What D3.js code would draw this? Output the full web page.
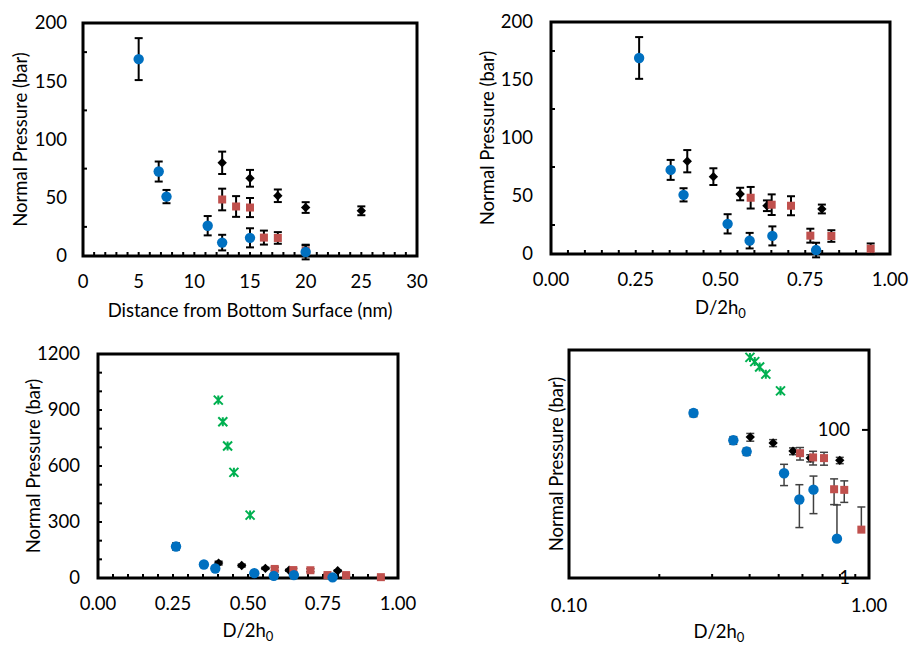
<!DOCTYPE html>
<html>
<head>
<meta charset="utf-8">
<script src="https://cdn.jsdelivr.net/npm/d3@7"></script>
<style>
  body { margin: 0; background: #fff; }
  text { font-family: Lato, "Open Sans", sans-serif; fill: #000; }
</style>
</head>
<body>
<div id="chart"></div>
<script>
// Blue circles
const blueDist = [5.0, 6.8, 7.5, 11.2, 12.5, 15.0, 20.0];
const blueRatio = [0.260, 0.353, 0.391, 0.521, 0.586, 0.653, 0.782];
const bluePress = [169, 72.5, 51, 26, 11.5, 15.6, 3.4];
const blueErr = [18, 8.6, 5.7, 8.3, 6.7, 8.2, 6.3];

// Red squares
const redDist = [12.5, 13.75, 15.0, 16.25, 17.5, 20.0];
const redRatio = [0.589, 0.651, 0.708, 0.765, 0.827, 0.943];
const redPress = [48.5, 42.5, 41.6, 15.8, 15.5, 4.5];
const redErr = [9.3, 8.9, 8.2, 6.0, 5.0, 4.6];

// Black diamonds
const blackDist = [12.5, 15.0, 17.5, 20.0, 25.0];
const blackRatio = [0.402, 0.479, 0.558, 0.637, 0.799];
const blackPress = [80, 66.7, 51.7, 41.6, 38.8];
const blackErr = [9.6, 7.2, 5.4, 4.6, 3.8];

// Green stars (only in the bottom panels)
const greenRatio = [0.401, 0.416, 0.432, 0.453, 0.507];
const greenPress = [953, 837, 707, 566, 337];

// tick values
const distTicks = [0, 5, 10, 15, 20, 25, 30];
const pressTicks = [0, 50, 100, 150, 200];
const ratioTicks = [0, 0.25, 0.5, 0.75, 1.0];
const pressTicksBig = [0, 300, 600, 900, 1200];
const logXTicks = [0.1, 1];
const logXMinor = [0.2, 0.3, 0.4, 0.5, 0.6, 0.7, 0.8, 0.9];
const logYTicks = [1, 100];

const W = 911, H = 645;
const svg = d3.select("#chart").append("svg")
  .attr("width", W)
  .attr("height", H)
  .attr("viewBox", `0 0 ${W} ${H}`);

const colors = { blue: "#0070C0", red: "#C0504D", black: "#000000", green: "#00B050" };
const zip = (xs, ys, es) => xs.map((x, i) => ({ x: x, y: ys[i], e: es ? es[i] : 0 }));

function seriesFor(key) {
  const useDist = key === "dist";
  return [
    { name: "black", shape: "diamond", data: zip(useDist ? blackDist : blackRatio, blackPress, blackErr) },
    { name: "red", shape: "square", data: zip(useDist ? redDist : redRatio, redPress, redErr) },
    { name: "blue", shape: "circle", data: zip(useDist ? blueDist : blueRatio, bluePress, blueErr) }
  ];
}

const panels = [
  {
    box: { left: 83, right: 417, top: 23, bottom: 256 },
    x: d3.scaleLinear().domain([0, 30]), xTicks: distTicks, xMinor: d3.range(1, 30, 1), xFmt: d3.format("d"),
    y: d3.scaleLinear().domain([0, 200]), yTicks: pressTicks, yMinor: [25, 75, 125, 175], yFmt: d3.format("d"),
    series: seriesFor("dist"), errStyle: { stroke: "#000", width: 2 },
    xTitle: "Distance from Bottom Surface (nm)", xLabelY: 288, xTitleY: 317, yTitleX: 21, yLabelGap: 16
  },
  {
    box: { left: 551, right: 890, top: 22, bottom: 254 },
    x: d3.scaleLinear().domain([0, 1]), xTicks: ratioTicks, xMinor: d3.range(0.05, 1, 0.05), xFmt: d3.format(".2f"),
    y: d3.scaleLinear().domain([0, 200]), yTicks: pressTicks, yMinor: [25, 75, 125, 175], yFmt: d3.format("d"),
    series: seriesFor("ratio"), errStyle: { stroke: "#000", width: 2 },
    xTitle: "D/2h", xLabelY: 286, xTitleY: 314, yTitleX: 488, yLabelGap: 18
  },
  {
    box: { left: 98, right: 398, top: 354, bottom: 578 },
    x: d3.scaleLinear().domain([0, 1]), xTicks: ratioTicks, xMinor: d3.range(0.05, 1, 0.05), xFmt: d3.format(".2f"),
    y: d3.scaleLinear().domain([0, 1200]), yTicks: pressTicksBig, yMinor: d3.range(100, 1200, 100), yFmt: d3.format("d"),
    series: seriesFor("ratio").concat([{ name: "green", shape: "star", data: zip(greenRatio, greenPress) }]),
    errStyle: { stroke: "#000", width: 1.5 },
    xTitle: "D/2h", xLabelY: 610, xTitleY: 637, yTitleX: 34, yLabelGap: 18
  },
  {
    box: { left: 569, right: 869, top: 350, bottom: 578 },
    x: d3.scaleLog().domain([0.1, 1]), xTicks: logXTicks, xMinor: logXMinor, xFmt: d3.format(".2f"),
    y: d3.scaleLog().domain([1, 1200]), yTicks: logYTicks, yMinor: [], yFmt: d3.format("d"),
    series: seriesFor("ratio").concat([{ name: "green", shape: "star", data: zip(greenRatio, greenPress) }]),
    errStyle: { stroke: "#404040", width: 1.5 },
    xTitle: "D/2h", xLabelY: 612, xTitleY: 638, yTitleX: 557, yLabelGap: 0, logPanel: true
  }
];

const FONT = 18.5;

function drawMarker(g, shape, color, px, py) {
  if (shape === "circle") {
    g.append("circle").attr("cx", px).attr("cy", py).attr("r", 5.2).attr("fill", color);
  } else if (shape === "square") {
    g.append("rect").attr("x", px - 4).attr("y", py - 4).attr("width", 8).attr("height", 8).attr("fill", color);
  } else if (shape === "diamond") {
    g.append("path")
      .attr("d", d3.symbol().type(d3.symbolSquare).size(44)())
      .attr("transform", `translate(${px},${py}) rotate(45)`)
      .attr("fill", color);
  } else if (shape === "star") {
    const s = 4.5;
    g.append("path")
      .attr("d", `M${px - s},${py - s}L${px + s},${py + s}M${px - s},${py + s}L${px + s},${py - s}M${px},${py - s}L${px},${py + s}`)
      .attr("stroke", color).attr("stroke-width", 2).attr("fill", "none");
  }
}

panels.forEach(p => {
  const b = p.box;
  p.x.range([b.left, b.right]);
  p.y.range([b.bottom, b.top]);
  const g = svg.append("g");

  // frame
  g.append("rect")
    .attr("x", b.left).attr("y", b.top)
    .attr("width", b.right - b.left).attr("height", b.bottom - b.top)
    .attr("fill", "none").attr("stroke", "#000").attr("stroke-width", 3);

  // minor ticks (inside)
  g.selectAll(".xminor").data(p.xMinor).enter().append("line")
    .attr("x1", d => p.x(d)).attr("x2", d => p.x(d))
    .attr("y1", b.bottom).attr("y2", b.bottom - 4)
    .attr("stroke", "#000").attr("stroke-width", 2);
  g.selectAll(".yminor").data(p.yMinor).enter().append("line")
    .attr("x1", b.left).attr("x2", b.left + 4)
    .attr("y1", d => p.y(d)).attr("y2", d => p.y(d))
    .attr("stroke", "#000").attr("stroke-width", 2);

  // x tick labels
  g.selectAll(".xlab").data(p.xTicks).enter().append("text")
    .attr("x", d => p.x(d)).attr("y", p.xLabelY)
    .attr("text-anchor", "middle").attr("font-size", FONT)
    .text(p.xFmt);

  if (!p.logPanel) {
    g.selectAll(".ylab").data(p.yTicks).enter().append("text")
      .attr("x", b.left - p.yLabelGap).attr("y", d => p.y(d))
      .attr("dy", "0.35em").attr("text-anchor", "end").attr("font-size", FONT)
      .text(p.yFmt);
  } else {
    // log y axis sits on the right edge
    g.selectAll(".ytick").data(p.yTicks).enter().append("line")
      .attr("x1", b.right - 7).attr("x2", b.right)
      .attr("y1", d => p.y(d)).attr("y2", d => p.y(d))
      .attr("stroke", "#000").attr("stroke-width", 2);
    g.selectAll(".ylab").data(p.yTicks).enter().append("text")
      .attr("x", b.right - 19).attr("y", d => p.y(d))
      .attr("dy", "0.35em").attr("text-anchor", "end").attr("font-size", FONT)
      .text(p.yFmt);
  }

  // axis titles
  const xt = g.append("text")
    .attr("x", (b.left + b.right) / 2).attr("y", p.xTitleY)
    .attr("text-anchor", "middle").attr("font-size", FONT)
    .text(p.xTitle);
  if (p.xTitle === "D/2h") {
    xt.append("tspan").attr("font-size", 13).attr("dy", 4).text("0");
  }
  g.append("text")
    .attr("transform", `translate(${p.yTitleX},${(b.top + b.bottom) / 2}) rotate(-90)`)
    .attr("dy", "0.35em").attr("text-anchor", "middle").attr("font-size", FONT)
    .text("Normal Pressure (bar)");

  // series: error bars then markers
  p.series.forEach(s => {
    const color = colors[s.name];
    s.data.forEach(d => {
      if (d.e > 0) {
        const px = p.x(d.x);
        const yHi = p.y(d.y + d.e);
        const lo = d.y - d.e;
        const noLow = p.logPanel && lo <= 0;
        const yLo = noLow ? p.y(d.y) : p.y(lo);
        const es = p.errStyle;
        g.append("line").attr("x1", px).attr("x2", px).attr("y1", yHi).attr("y2", yLo)
          .attr("stroke", es.stroke).attr("stroke-width", es.width);
        g.append("line").attr("x1", px - 4).attr("x2", px + 4).attr("y1", yHi).attr("y2", yHi)
          .attr("stroke", es.stroke).attr("stroke-width", es.width);
        if (!noLow) {
          g.append("line").attr("x1", px - 4).attr("x2", px + 4).attr("y1", yLo).attr("y2", yLo)
            .attr("stroke", es.stroke).attr("stroke-width", es.width);
        }
      }
    });
    s.data.forEach(d => drawMarker(g, s.shape, color, p.x(d.x), p.y(d.y)));
  });
});
</script>
</body>
</html>
